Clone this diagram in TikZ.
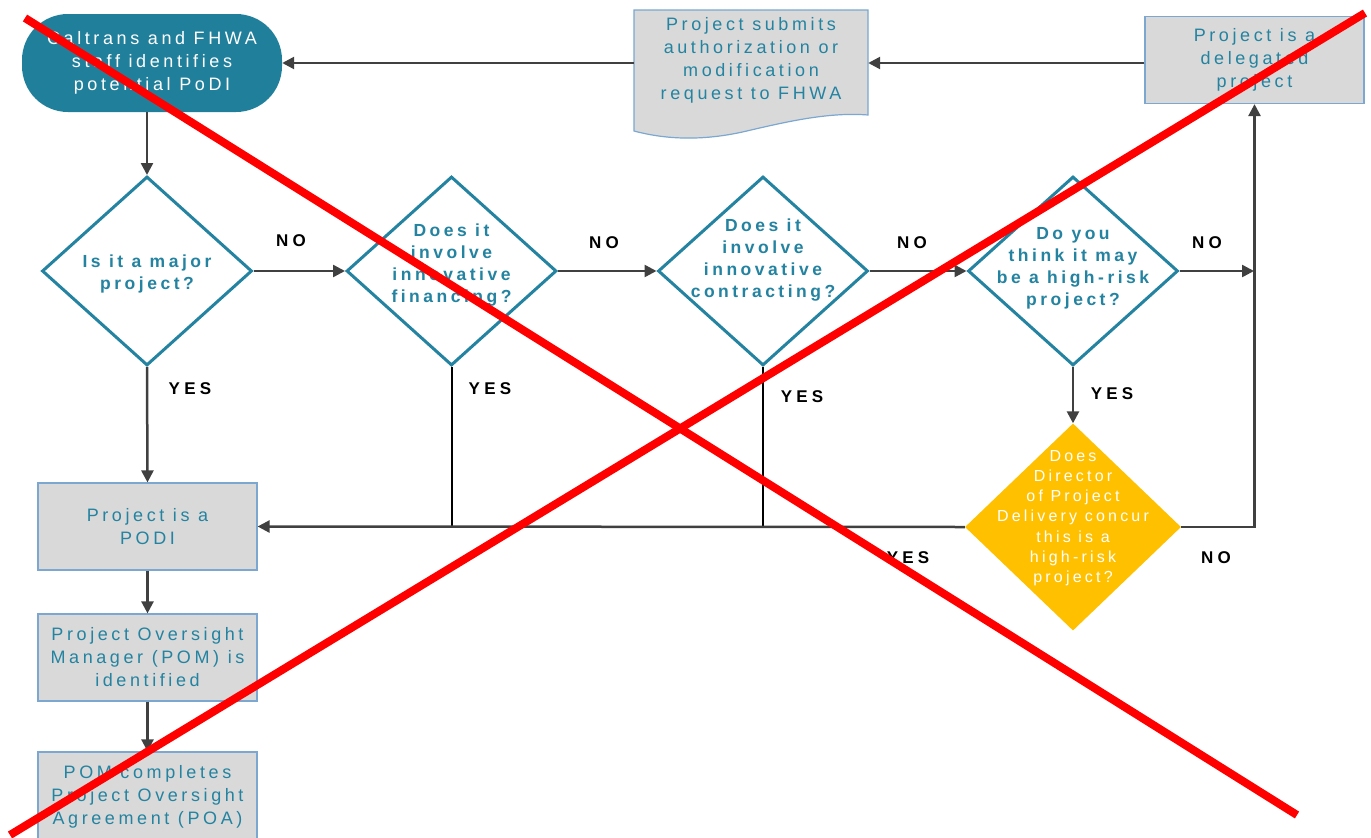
\documentclass[tikz,border=0pt]{standalone}
\usepackage{fontspec}
\setmainfont{Liberation Sans}
\newfontfamily\boxfont[LetterSpace=20]{Liberation Sans}
\newfontfamily\ansfont[LetterSpace=25]{Liberation Sans}
\usetikzlibrary{shapes.geometric,arrows.meta}

\definecolor{flowteal}{HTML}{2383A0}
\definecolor{termteal}{HTML}{20809B}
\definecolor{boxgray}{HTML}{D9D9D9}
\definecolor{boxedge}{HTML}{7BA7D0}
\definecolor{arrowgray}{HTML}{404040}
\definecolor{flowyellow}{HTML}{FFC000}
\definecolor{crossred}{HTML}{FF0000}

\tikzset{
  txt/.style={text=flowteal, align=center, font=\boxfont\fontsize{18}{23}\selectfont},
  graybox/.style={rectangle, draw=boxedge, fill=boxgray, line width=1.2pt,
    minimum width=219pt, minimum height=87pt, inner sep=0pt, txt},
  question/.style={diamond, draw=flowteal, line width=3pt, fill=white,
    minimum width=210pt, minimum height=189pt, inner sep=0pt},
  qtext/.style={text=flowteal, align=center, font=\boxfont\bfseries\fontsize{17.5}{22}\selectfont},
  arr/.style={draw=arrowgray, line width=2.5pt, -{Triangle[length=12pt,width=12pt]}},
  drop/.style={draw=black, line width=2pt},
  ans/.style={text=black, font=\ansfont\bfseries\fontsize{17}{20}\selectfont, inner sep=0pt},
}

\begin{document}
\begin{tikzpicture}[x=1pt,y=-1pt]
\useasboundingbox (0,0) rectangle (1371,838);
\clip (0,0) rectangle (1371,838);

% start terminator
\node[rectangle, rounded corners=46pt, fill=termteal, minimum width=260pt,
  minimum height=98pt, inner sep=0pt, text=white, align=center,
  font=\boxfont\fontsize{18}{23}\selectfont] (term) at (152,63)
  {Caltrans and FHWA\\staff identifies\\potential PoDI};

% document shape for the submission step
\draw[fill=boxgray, draw=boxedge, line width=1.2pt]
  (634,10) -- (868,10) -- (868,115)
  .. controls (830,112) and (790,121) .. (751,130)
  .. controls (715,139) and (675,142) .. (634,131) -- cycle;
\node[txt, minimum width=234pt, inner sep=0pt] (sub) at (751,60.5)
  {Project submits\\authorization or\\modification\\request to FHWA};

% delegated project box
\node[graybox] (dl) at (1254.5,60) {Project is a\\delegated\\project};

% decision diamonds
\node[question, label={[qtext, yshift=-3pt]center:{Is it a major\\project?}}] (d1) at (147,271) {};
\node[question, label={[qtext, yshift=6pt]center:{Does it\\involve\\innovative\\financing?}}] (d2) at (451.5,271) {};
\node[question, label={[qtext, yshift=11pt]center:{Does it\\involve\\innovative\\contracting?}}] (d3) at (763,271) {};
\node[question, label={[qtext, yshift=3pt]center:{Do you\\think it may\\be a high-risk\\project?}}] (d4) at (1073,271) {};

% concurrence diamond
\node[diamond, fill=flowyellow, minimum width=216pt, minimum height=207pt, inner sep=0pt,
  label={[text=white, align=center, yshift=9pt, font=\boxfont\fontsize{16}{20.2}\selectfont]center:{Does\\Director\\of Project\\Delivery concur\\this is a\\high-risk\\project?}}]
  (yel) at (1073,527) {};

% PODI steps
\node[graybox] (podi) at (147.5,526.5) {Project is a\\PODI};
\node[graybox] (pom) at (147.5,657.5) {Project Oversight\\Manager (POM) is\\identified};
\node[graybox, minimum height=90pt] (poa) at (147.5,797) {POM completes\\Project Oversight\\Agreement (POA)};

% connectors
\draw[arr] (d1.north |- term.south) -- (d1.north);
\draw[arr] (d1.east) -- (d2.west);
\draw[arr] (d2.east) -- (d3.west);
\draw[arr] (d3.east) -- (d4.west);
\coordinate (jn) at (1254,271);
\draw[arr] (d4.east) -- (jn);
\draw[arr] (yel.east) -| (dl.south);
\draw[arr] (d4.south) -- (yel.north);
\draw[arr] (d1.south) -- (podi.north);
\draw[drop] (d2.south) -- (d2.south |- yel.west);
\draw[drop] (d3.south) -- (d3.south |- yel.west);
\draw[arr] (yel.west) -- (podi.east);
\draw[arr] (podi.south) -- (pom.north);
\draw[arr] (pom.south) -- (poa.north);
\draw[arr] (dl.west |- term.east) -- (sub.east |- term.east);
\draw[arr] (sub.west |- term.east) -- (term.east);

% branch labels
\node[ans] (n1) at (291,241) {NO};
\node[ans] (n2) at (604,243) {NO};
\node[ans] (n3) at (912,243) {NO};
\node[ans] (n4) at (1207,243) {NO};
\node[ans] (n5) at (1216,558) {NO};
\node[ans] (y1) at (190,389) {YES};
\node[ans] (y2) at (490,389) {YES};
\node[ans] (y3) at (802,397) {YES};
\node[ans] (y4) at (1112,394) {YES};
\node[ans] (y5) at (908,558) {YES};

% crossing-out strokes
\draw[crossred, line width=8pt] (25,18) -- (1297,815);
\draw[crossred, line width=8pt] (1365,13) -- (10,835);
\end{tikzpicture}
\end{document}
